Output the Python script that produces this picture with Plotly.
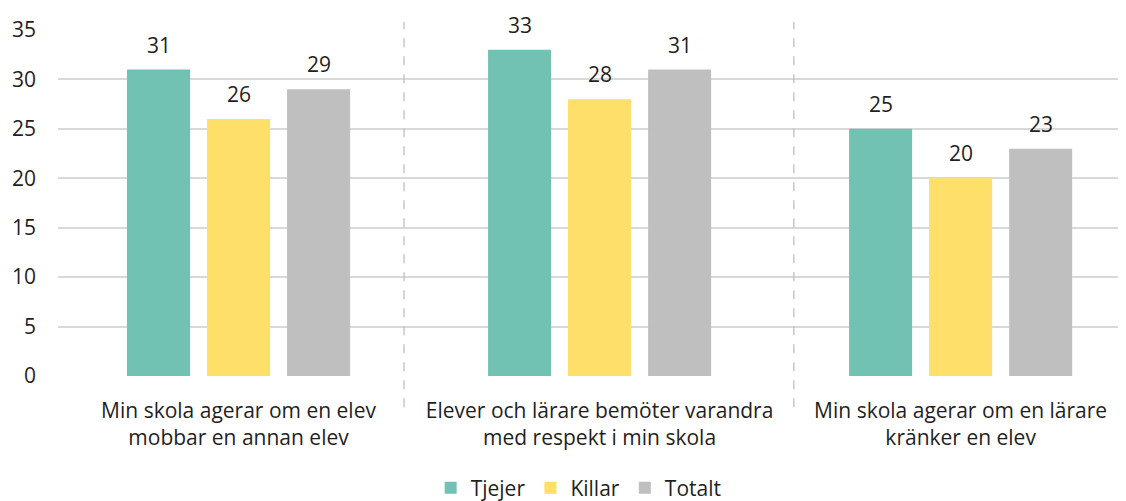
import plotly.graph_objects as go

categories = [
    "Min skola agerar om en elev<br>mobbar en annan elev",
    "Elever och lärare bemöter varandra<br>med respekt i min skola",
    "Min skola agerar om en lärare<br>kränker en elev",
]
series_names = ["Tjejer", "Killar", "Totalt"]
tjejer = [31, 33, 25]
killar = [26, 28, 20]
totalt = [29, 31, 23]
colors = ["#72C2B3", "#FDDF6A", "#BFBFBF"]
y_ticks = [0, 5, 10, 15, 20, 25, 30, 35]

FONT = "Open Sans"
TXT = "#1F1F1F"
FS = 21

fig = go.Figure()
all_vals = [tjejer, killar, totalt]
for name, vals, col in zip(series_names, all_vals, colors):
    fig.add_trace(go.Bar(x=categories, y=vals, name=name, marker=dict(color=col, line=dict(width=0))))

# data labels
shifts = [-80, 0, 80]
annotations = []
for vals, sh in zip(all_vals, shifts):
    for c, v in zip(categories, vals):
        annotations.append(dict(x=c, y=v, text=str(v), showarrow=False, xshift=sh, yshift=25,
                                yanchor="middle", font=dict(family=FONT, size=FS, color=TXT)))

shapes = []
for xp in [0.324, 0.689]:
    shapes.append(dict(type="line", xref="paper", yref="paper", x0=xp, x1=xp, y0=-0.09, y1=1.023,
                       line=dict(color="#BFBFBF", width=1.3, dash="dash")))

fig.update_layout(
    width=1118, height=493,
    margin=dict(l=50, r=0, t=22, b=125, autoexpand=False),
    paper_bgcolor="white", plot_bgcolor="white",
    barmode="group", bargap=0.335, bargroupgap=0.2125,
    font=dict(family=FONT, size=FS, color=TXT),
    showlegend=True,
    legend=dict(orientation="h", x=0.4875, xanchor="center", y=-0.3237, yanchor="middle",
                font=dict(family=FONT, size=FS, color=TXT), itemwidth=30, tracegroupgap=0),
    annotations=annotations,
    shapes=shapes,
)
fig.update_xaxes(range=[-0.5, 2.458], showgrid=False, zeroline=False, showline=False, ticks="",
                 ticklabelstandoff=20, automargin=False,
                 tickfont=dict(family=FONT, size=FS, color=TXT))
fig.update_yaxes(range=[0, 35], tickvals=y_ticks, showgrid=True, gridcolor="#D9D9D9", gridwidth=1.5,
                 zeroline=False, showline=False, ticks="", ticklabelstandoff=21, automargin=False,
                 tickfont=dict(family=FONT, size=FS, color=TXT))
fig.write_html("out.html")
